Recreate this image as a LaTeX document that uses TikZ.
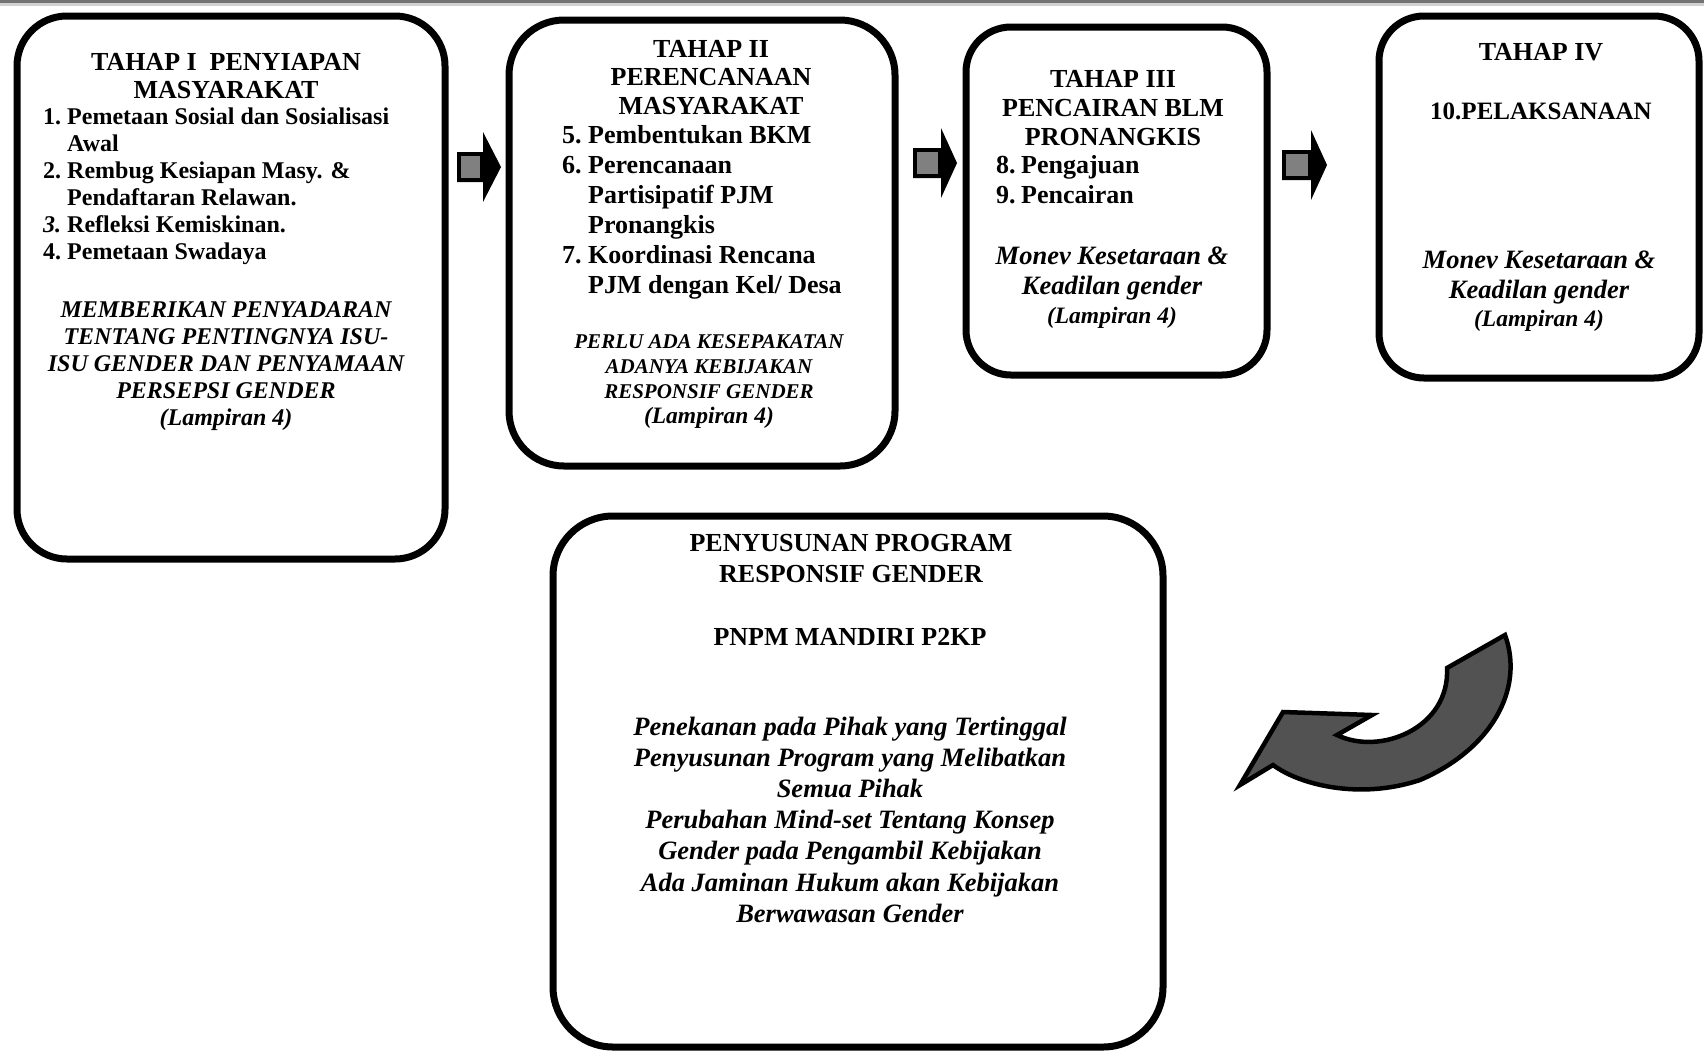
\documentclass[tikz,border=0pt]{standalone}
\usepackage{fontspec}
\setmainfont{Liberation Serif}
\newcommand\cblock[1]{\begin{tabular}[t]{@{}c@{}}#1\end{tabular}}
\newcommand\iblock[2]{\begin{tabular}[t]{@{}l@{\hspace{#1}}l@{}}#2\end{tabular}}
\begin{document}
\begin{tikzpicture}[x=1pt,y=-1pt,
  stage/.style={draw=black, line width=7pt, rounded corners=#1, inner sep=0pt},
  stage/.default=50pt,
  txt/.style={inner sep=0pt, anchor=base},
  list/.style={inner sep=0pt, anchor=base west},
  pics/flowarrow/.style args={#1/#2}{code={
    \fill[black] (0,-15) -- (#1,-15) -- (#1,-35) -- ({#1+#2},0) -- (#1,35) -- (#1,15) -- (0,15) -- cycle;
    \fill[black!50] (4,-11) rectangle ({#1-3},11);
  }}]
% page and scanner edge
\fill[white] (0,0) rectangle (1704,1053);
\useasboundingbox (0,0) rectangle (1704,1053);
\fill[black!55] (0,0) rectangle (1704,3);
\fill[black!18] (0,3) rectangle (1704,6);

% stage boxes
\node[stage=50pt, minimum width=428, minimum height=543] (b1) at (231,287.5) {};
\node[stage=55pt, minimum width=386, minimum height=446] (b2) at (702,243) {};
\node[stage=45pt, minimum width=301, minimum height=348] (b3) at (1116.5,201) {};
\node[stage=45pt, minimum width=320, minimum height=362] (b4) at (1539,197) {};
\node[stage=60pt, minimum width=610, minimum height=531] (b5) at (858,781.5) {};

% stage I
\node[txt, font=\bfseries\fontsize{26}{28}\selectfont] (t1) at (226,70)
  {\cblock{TAHAP I\ \ PENYIAPAN\\MASYARAKAT}};
\node[list, font=\bfseries\fontsize{24}{27}\selectfont] (l1) at (43,124)
  {\iblock{6pt}{1. & Pemetaan Sosial dan Sosialisasi\\
   & Awal\\
   2. & Rembug Kesiapan Masy. \&\\
   & Pendaftaran Relawan.\\
   \textit{3.} & Refleksi Kemiskinan.\\
   4. & Pemetaan Swadaya}};
\node[txt, font=\bfseries\itshape\fontsize{24}{27}\selectfont] (n1) at (226,317)
  {\cblock{MEMBERIKAN PENYADARAN\\TENTANG PENTINGNYA ISU-\\ISU GENDER DAN PENYAMAAN\\PERSEPSI GENDER\\(Lampiran 4)}};

% stage II
\node[txt, font=\bfseries\fontsize{26}{28.5}\selectfont] (t2) at (711,57)
  {\cblock{TAHAP II\\PERENCANAAN\\MASYARAKAT}};
\node[list, font=\bfseries\fontsize{26}{30}\selectfont] (l2) at (562,143)
  {\iblock{6.5pt}{5. & Pembentukan BKM\\
   6. & Perencanaan\\
   & Partisipatif PJM\\
   & Pronangkis\\
   7. & Koordinasi Rencana\\
   & PJM dengan Kel/ Desa}};
\node[txt, font=\bfseries\itshape\fontsize{21}{25}\selectfont] (n2) at (709,348)
  {\cblock{PERLU ADA KESEPAKATAN\\ADANYA KEBIJAKAN\\RESPONSIF GENDER\\{\fontsize{23.5}{25}\selectfont(Lampiran 4)}}};

% stage III
\node[txt, font=\bfseries\fontsize{26}{29}\selectfont] (t3) at (1113,87)
  {\cblock{TAHAP III\\PENCAIRAN BLM\\PRONANGKIS}};
\node[list, font=\bfseries\fontsize{26}{30}\selectfont] (l3) at (996,173)
  {\iblock{5.5pt}{8. & Pengajuan\\ 9. & Pencairan}};
\node[txt, font=\bfseries\itshape\fontsize{26.5}{30}\selectfont] (n3) at (1112,264)
  {\cblock{Monev Kesetaraan \&\\Keadilan gender\\[-1pt]{\fontsize{23.5}{29}\selectfont(Lampiran 4)}}};

% stage IV
\node[txt, font=\bfseries\fontsize{26}{29}\selectfont] (t4) at (1541,60) {TAHAP IV};
\node[txt, font=\bfseries\fontsize{25}{29}\selectfont] (l4) at (1541,119) {10.PELAKSANAAN};
\node[txt, font=\bfseries\itshape\fontsize{26.5}{30}\selectfont] (n4) at (1539,268)
  {\cblock{Monev Kesetaraan \&\\Keadilan gender\\[-2pt]{\fontsize{23.5}{29}\selectfont(Lampiran 4)}}};

% programme box
\node[txt, font=\bfseries\fontsize{26}{31}\selectfont] (t5) at (851,551)
  {\cblock{PENYUSUNAN PROGRAM\\RESPONSIF GENDER}};
\node[txt, font=\bfseries\fontsize{26}{31}\selectfont] (p5) at (850,645) {PNPM MANDIRI P2KP};
\node[txt, font=\bfseries\itshape\fontsize{26.5}{31.2}\selectfont] (n5) at (850,735)
  {\cblock{Penekanan pada Pihak yang Tertinggal\\
   Penyusunan Program yang Melibatkan\\
   Semua Pihak\\
   Perubahan Mind-set Tentang Konsep\\
   Gender pada Pengambil Kebijakan\\
   Ada Jaminan Hukum akan Kebijakan\\
   Berwawasan Gender}};

% block arrows between the stages
\pic at (457,167) {flowarrow=26/18};
\pic at (913,163) {flowarrow=28/16};
\pic at (1282,165) {flowarrow=29/16};

% curved return arrow
\filldraw[fill=black!68, draw=black, line width=4.5pt]
  (1240,785) -- (1283,712) -- (1372,715) -- (1337,735)
  .. controls (1380,756) and (1450,728) .. (1447,668)
  -- (1505,635)
  .. controls (1525,690) and (1490,750) .. (1420,780)
  .. controls (1360,800) and (1300,785) .. (1273,765)
  -- cycle;
\end{tikzpicture}
\end{document}
